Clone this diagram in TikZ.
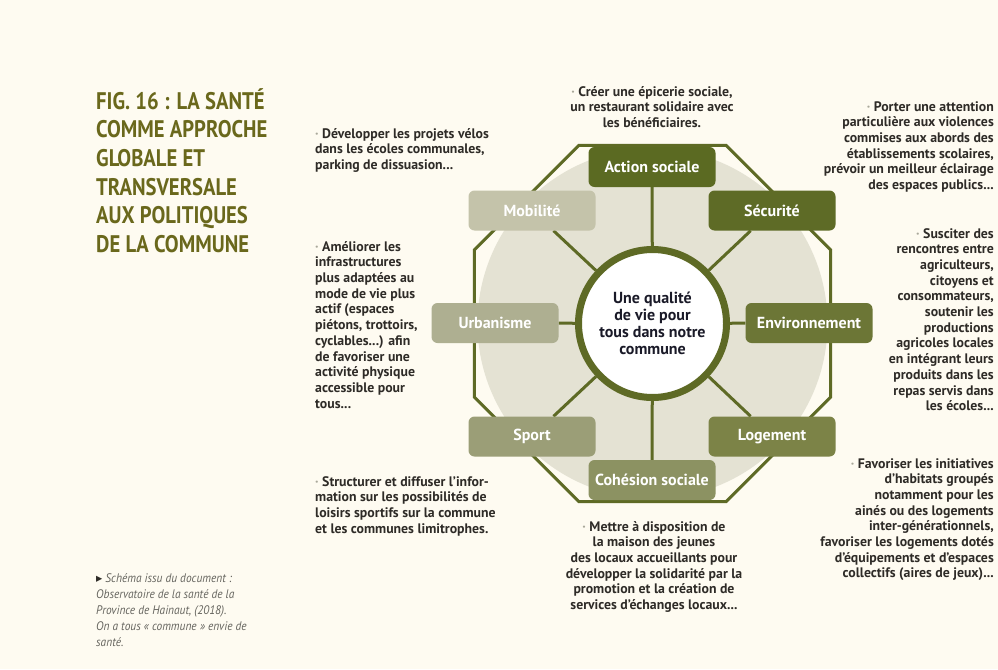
\documentclass[tikz,border=0pt]{standalone}
\usepackage{fontspec}
\setmainfont{PT Sans}
\newfontfamily\titlefont[FakeStretch=0.86]{PT Sans}
\newfontfamily\notefont[FakeStretch=0.92]{PT Sans}
\newfontfamily\symfont{DejaVu Sans}
\usetikzlibrary{backgrounds}
\definecolor{bgcream}{HTML}{FEFBF1}
\definecolor{disk}{HTML}{E4E2D3}
\definecolor{lineol}{HTML}{5E6A25}
\definecolor{acs}{HTML}{5B6A22}
\definecolor{sec}{HTML}{5E6B26}
\definecolor{env}{HTML}{6C7636}
\definecolor{loge}{HTML}{7C8347}
\definecolor{coh}{HTML}{8C9262}
\definecolor{spo}{HTML}{9B9E77}
\definecolor{urb}{HTML}{AEAF91}
\definecolor{mob}{HTML}{C4C3AA}
\definecolor{txt}{HTML}{2E2B27}
\definecolor{ctxt}{HTML}{1A1A28}
\definecolor{titlecol}{HTML}{6A681C}
\definecolor{notecol}{HTML}{66655F}
\definecolor{dotcol}{HTML}{A9A89A}
\newcommand{\puce}{{\color{dotcol}·}\ }

\begin{document}
\begin{tikzpicture}[x=1pt,y=-1pt,
  theme/.style={rounded corners=6pt,minimum width=127pt,minimum height=40pt,inner sep=0pt,
    text=white,font=\bfseries\fontsize{16}{18}\selectfont},
  spoke/.style={draw=lineol,line width=3pt},
  idea/.style={inner sep=0pt,text=txt,font=\bfseries\fontsize{13.8}{15.7}\selectfont}]
  \useasboundingbox (0,0) rectangle (998,669);
  \coordinate (c) at (652.5,323.5);
  % themes round the centre
  \node[theme,fill=acs] (action) at (652,167) {Action sociale};
  \node[theme,fill=sec] (secu) at (772,210.5) {Sécurité};
  \node[theme,fill=env] (envi) at (809,323) {Environnement};
  \node[theme,fill=loge] (logt) at (772,436.5) {Logement};
  \node[theme,fill=coh] (cohe) at (652,480) {Cohésion sociale};
  \node[theme,fill=spo] (sport) at (532,436.5) {Sport};
  \node[theme,fill=urb] (urba) at (495,323) {Urbanisme};
  \node[theme,fill=mob] (mobi) at (532,210.5) {Mobilité};
  \node[circle,draw=lineol,line width=7pt,fill=white,minimum size=148pt,inner sep=0pt,align=center,
    text=ctxt,font=\bfseries\fontsize{16}{17}\selectfont] (centre) at (c)
    {Une qualité\\de vie pour\\tous dans notre\\commune};
  \begin{scope}[on background layer]
    \fill[bgcream] (0,0) rectangle (998,669);
    \fill[disk] (c) circle (175);
    \draw[lineol,line width=3pt] (c) +(22.5:192.7) \foreach \a in {67.5,112.5,...,337.5}{ -- +(\a:192.7)} -- cycle;
    \foreach \t in {action,secu,envi,logt,cohe,sport,urba,mobi} \draw[spoke] (centre) -- (\t);
  \end{scope}
  % texts
  \node[idea,anchor=north,align=center] (t-action) at (652,86)
    {\puce Créer une épicerie sociale,\\un restaurant solidaire avec\\les bénéficiaires.};
  \node[idea,anchor=north east,align=right] (t-secu) at (994,101)
    {\puce Porter une attention\\particulière aux violences\\commises aux abords des\\établissements scolaires,\\prévoir un meilleur éclairage\\des espaces publics...};
  \node[idea,anchor=north west,align=left] (t-mobi) at (315,128)
    {\puce Développer les projets vélos\\dans les écoles communales,\\parking de dissuasion...};
  \node[idea,anchor=north west,align=left] (t-urba) at (315,241)
    {\puce Améliorer les\\infrastructures\\plus adaptées au\\mode de vie plus\\actif (espaces\\piétons, trottoirs,\\cyclables...) afin\\de favoriser une\\activité physique\\accessible pour\\tous...};
  \node[idea,anchor=north east,align=right] (t-envi) at (994,228)
    {\puce Susciter des\\rencontres entre\\agriculteurs,\\citoyens et\\consommateurs,\\soutenir les\\productions\\agricoles locales\\en intégrant leurs\\produits dans les\\repas servis dans\\les écoles...};
  \node[idea,anchor=north west,align=left] (t-sport) at (315,476)
    {\puce Structurer et diffuser l’infor-\\mation sur les possibilités de\\loisirs sportifs sur la commune\\et les communes limitrophes.};
  \node[idea,anchor=north,align=center] (t-cohe) at (654,521)
    {\puce Mettre à disposition de\\la maison des jeunes\\des locaux accueillants pour\\développer la solidarité par la\\promotion et la création de\\services d’échanges locaux...};
  \node[idea,anchor=north east,align=right] (t-logt) at (994,458)
    {\puce Favoriser les initiatives\\d’habitats groupés\\notamment pour les\\ainés ou des logements\\inter-générationnels,\\favoriser les logements dotés\\d’équipements et d’espaces\\collectifs (aires de jeux)...};
  % title and source
  \node[anchor=north west,inner sep=0pt,align=left,text=titlecol,
    font=\titlefont\bfseries\fontsize{24}{28.7}\selectfont] (titre) at (96,88)
    {FIG. 16 : LA SANTÉ\\COMME APPROCHE\\GLOBALE ET\\TRANSVERSALE\\AUX POLITIQUES\\DE LA COMMUNE};
  \node[anchor=north west,inner sep=0pt,align=left,text=notecol,
    font=\notefont\itshape\fontsize{12.4}{16}\selectfont] (source) at (96,573)
    {{\symfont\color{txt}▸}\ Schéma issu du document :\\Observatoire de la santé de la\\Province de Hainaut, (2018).\\On a tous «~commune~» envie de\\santé.};
\end{tikzpicture}
\end{document}
